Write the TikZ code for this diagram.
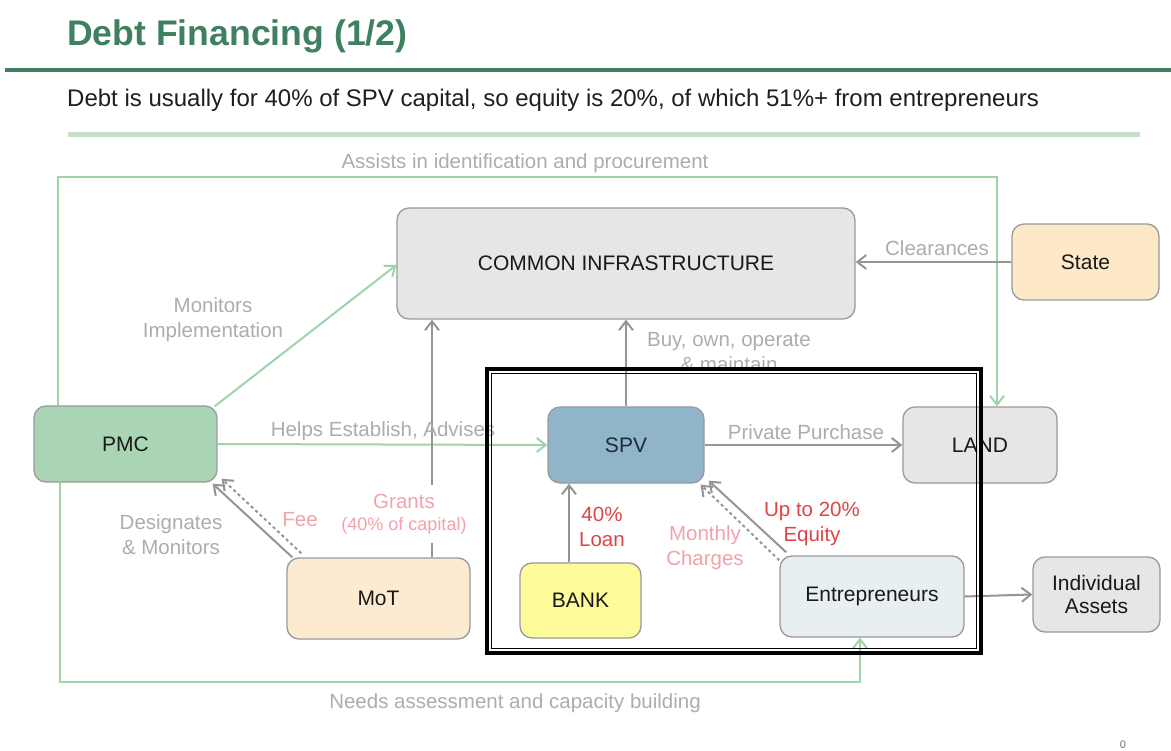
\documentclass[tikz,border=0pt]{standalone}
\usepackage{fontspec}
\setmainfont{Liberation Sans}
\usetikzlibrary{arrows.meta,calc}
\definecolor{TitleGreen}{HTML}{3E8060}
\definecolor{RuleGreen}{HTML}{C6DDC9}
\definecolor{LineGreen}{HTML}{9FD4AA}
\definecolor{BoxLine}{HTML}{9A9A9A}
\definecolor{ArrowGray}{HTML}{959595}
\definecolor{LabelGray}{HTML}{ADADAD}
\definecolor{LoanRed}{HTML}{DD4545}
\definecolor{FeePink}{HTML}{F2A2AA}
\definecolor{InfraGray}{HTML}{E6E6E6}
\definecolor{PmcGreen}{HTML}{A9D5B4}
\definecolor{MotPeach}{HTML}{FDEBD1}
\definecolor{StatePeach}{HTML}{FDE8C8}
\definecolor{SpvBlue}{HTML}{91B5C8}
\definecolor{BankYellow}{HTML}{FEFB9A}
\definecolor{EntreBlue}{HTML}{E8EFF2}
\definecolor{SpvText}{HTML}{1D2B3A}

\tikzset{
  box/.style={draw=BoxLine,line width=1.3pt,rounded corners=12pt,inner sep=0pt,align=center,
    font=\fontsize{21}{25}\selectfont,text=black!90},
  lbl/.style={font=\fontsize{20.5}{25}\selectfont,text=LabelGray,align=center,inner sep=1pt},
  grayarrow/.style={draw=ArrowGray,line width=2pt,-{Straight Barb[length=9pt,width=14pt]}},
  greenarrow/.style={draw=LineGreen,line width=2pt,-{Straight Barb[length=9pt,width=14pt]}},
}

\begin{document}
\begin{tikzpicture}[x=1pt,y=-1pt]
    \fill[white] (0,0) rectangle (1171,751);
    \useasboundingbox (0,0) rectangle (1171,751);

    \node[anchor=base west,inner sep=0pt,text=TitleGreen,font=\fontsize{35.6}{40}\selectfont\bfseries] (title) at (67,46) {Debt Financing (1/2)};
    \draw[TitleGreen,line width=4pt] (5,70) -- (1171,70);
    \node[anchor=base west,inner sep=0pt,text=black!88,font=\fontsize{24}{28}\selectfont] (sub) at (67,107) {Debt is usually for 40\% of SPV capital, so equity is 20\%, of which 51\%+ from entrepreneurs};
    \draw[RuleGreen,line width=5pt] (68,135) -- (1140,135);

    \node[box,fill=InfraGray,minimum width=458pt,minimum height=111pt] (ci) at (626,263.5) {COMMON INFRASTRUCTURE};
    \node[box,fill=StatePeach,minimum width=147pt,minimum height=76pt] (state) at (1085.5,262) {State};
    \node[box,fill=PmcGreen,minimum width=183pt,minimum height=76pt] (pmc) at (125.5,444) {PMC};
    \node[box,fill=MotPeach,minimum width=183pt,minimum height=81pt] (mot) at (378.5,598.5) {MoT};
    \node[box,fill=SpvBlue,text=SpvText,minimum width=156pt,minimum height=76pt] (spv) at (626,445) {SPV};
    \node[box,fill=BankYellow,minimum width=121pt,minimum height=75pt] (bank) at (580.5,600.5) {BANK};
    \node[box,fill=EntreBlue,minimum width=184pt,minimum height=81pt] (entre) at (872,596.5) {Entrepreneurs};
    \node[box,fill=InfraGray,minimum width=154pt,minimum height=76pt] (land) at (980,445) {LAND};
    \node[box,fill=InfraGray,minimum width=127pt,minimum height=75pt,font=\fontsize{21}{23}\selectfont] (assets) at (1096.5,594.5) {Individual\\Assets};

    \coordinate (topL) at (58,177);
    \coordinate (topR) at (997,177);
    \coordinate (botL) at (60,682);
    \coordinate (botR) at (860,682);
    \coordinate (grantx) at ($(mot.north)+(53.5,0)$);
    \coordinate (loanx) at ($(bank.north)+(-11.5,0)$);

    \draw[greenarrow] (pmc.north -| topL) -- (topL) -- (topR) -- (land.north -| topR);
    \draw[greenarrow] (pmc.south -| botL) -- (botL) -- (botR) -- (entre.south -| botR);
    \draw[greenarrow] ($(pmc.north east)+(-3,1)$) -- ($(ci.west)+(0,1.5)$);
    \draw[greenarrow] (pmc.east) -- (spv.west);

    \draw[grayarrow] ($(mot.north west)+(6,0)$) -- ($(pmc.south east)+(-5,1)$);
    \draw[grayarrow,dashed] ($(mot.north west)+(15,-4)$) -- ($(pmc.south east)+(4,-4)$);
    \draw[grayarrow] (grantx) -- (grantx |- ci.south);
    \draw[grayarrow] (spv.north) -- (ci.south);
    \draw[grayarrow] (state.west) -- (state.west -| ci.east);
    \draw[grayarrow] (spv.east) -- (land.west);
    \draw[grayarrow] (loanx) -- (loanx |- spv.south);
    \draw[grayarrow] ($(entre.north west)+(7,-3)$) -- ($(spv.south east)+(4,-3)$);
    \draw[grayarrow,dashed] ($(entre.north west)+(0,5)$) -- ($(spv.south east)+(-4,1)$);
    \draw[grayarrow] (entre.east) -- (assets.west);

    \node[lbl] (assists) at (525,163) {Assists in identification and procurement};
    \node[lbl] (monitors) at (213,320) {Monitors\\Implementation};
    \node[lbl] (helps) at (383,431) {Helps Establish, Advises};
    \node[lbl] (designates) at (171,535) {Designates\\\& Monitors};
    \node[lbl,text=FeePink] (fee) at (300,520) {Fee};
    \node[lbl,text=FeePink,fill=white,inner sep=9pt] (grants) at (404,514) {Grants\\[-3pt]{\fontsize{18}{20}\selectfont(40\% of capital)}};
    \node[lbl] (buy) at (729,352) {Buy, own, operate\\\& maintain};
    \node[lbl] (clear) at (937,248) {Clearances};
    \node[lbl] (private) at (806,432) {Private Purchase};
    \node[lbl,text=LoanRed] (loan) at (602,527) {40\%\\Loan};
    \node[lbl,text=LoanRed] (equity) at (812,524) {Up to 20\%\\Equity};
    \node[lbl,text=FeePink] (monthly) at (705,548) {Monthly\\Charges};
    \node[lbl] (needs) at (515,703) {Needs assessment and capacity building};

    \draw[black,line width=3.5pt] (487,369) rectangle (981,653);
    \draw[black,line width=1.6pt] (491.5,373.5) rectangle (976.5,648.5);

    \node[font=\fontsize{11}{12}\selectfont,text=black!55,inner sep=0pt] (page) at (1123,745) {0};
\end{tikzpicture}
\end{document}
